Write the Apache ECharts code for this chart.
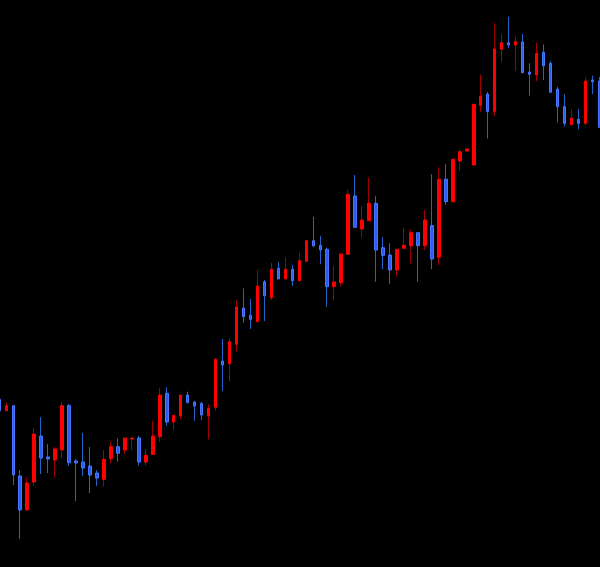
<!DOCTYPE html>
<html>
<head>
<meta charset="utf-8">
<script src="https://cdn.jsdelivr.net/npm/echarts@6/dist/echarts.min.js"></script>
<style>
html,body{margin:0;padding:0;background:#000;}
#chart{width:600px;height:567px;}
</style>
</head>
<body>
<div id="chart"></div>
<script>
// Session index (one entry per candle)
const sessions = Array.from({length: 87}, (_, i) => 'D' + (i + 1));

const opens = [
  167.7,156.3,161.3,91,57,85,131,110,107,117,
  161.3,106,105,101,94,87.7,108.3,120.3,117,128,
  129,105,112.7,130.3,173.7,145,151,172,165,163.5,
  151,159.7,206,203.3,222.7,259,251.7,245.3,285.3,269.3,
  298.7,288,297.7,286.3,305.7,326.3,321.7,317.7,280.3,284.3,
  312.7,371,338,346.3,363.7,319.3,312,297,318.7,321.3,
  334.3,321.3,341.3,309.7,387.7,365.3,406,416,402,461.5,
  473,455.5,517.7,524.3,522,525,495,492,514.7,503.7,
  478,460.3,442.3,447.7,443.7,487,486
];
const closes = [
  156.3,161.3,92,57,84,133,109,108,118,161.3,
  104.3,104,99,92,89,107.7,120.3,113.7,129,129,
  105,111.7,131,172,145,151.7,172,164.3,161,152,
  158.7,207.7,202,225.3,260,250.3,247.7,281,271.3,297.7,
  288,297.7,286.3,306.3,326.3,321,317,280.3,285,313,
  372.7,339.7,347,363.7,317,311.7,297,317.7,321.7,334.3,
  321.3,347,308,387.7,365.3,407.7,415.3,418,462.7,471,
  455.5,518,524.3,522,525.3,494.3,492.7,513.7,501.3,474.7,
  460.3,443.7,449,443.7,486,485.3,439.7
];
const lows = [
  156,156.3,82,28,57,81,93,94,90,109,
  101,66,91,74,81,80.3,103.7,105.3,112.7,117,
  101.3,101.3,112.7,125.3,141.3,137,147.7,164.3,146.3,147,
  127.7,156.3,176,186,215.3,244.3,238,245.3,246,267,
  288,288,281,286.3,305.7,321,302.7,260.3,267,280.3,
  312.7,339.7,329.3,346.3,285.3,297.7,283,290.5,318.7,303.7,
  285.3,317,297.7,302,362,365.3,396,416,402,455.3,
  428.5,451,505.3,518.7,496.3,494.3,471.3,486,487,474.7,
  444.7,440.3,442.3,437.7,442,473,439.7
];
const highs = [
  168,164.7,161.3,97,89,139,150,123,120,165,
  163,108,134,120,97,117,126,128.7,129,129,
  131,117.7,146,179.3,179.7,151.7,172,175.3,166,165.3,
  162.7,209.3,228,228.7,267,278.7,268,297,287,304.3,
  305,309.7,302,314.3,326.3,350.3,331,319.3,301,313,
  377,392,361,389.3,371,329.7,323.7,317.7,339.3,337.7,
  334.3,357,392.7,399.7,403,407.7,417.7,418,462.7,492,
  475,543.7,533,550.3,530.3,533,503.7,524.3,522.7,506,
  480.3,472.7,457.7,457.7,489.3,491.3,490
];

const wickData = sessions.map((_, i) => [opens[i], closes[i], lows[i], highs[i]]);
const bodyData = sessions.map((_, i) => {
  const lo = Math.min(opens[i], closes[i]);
  const hi = Math.max(opens[i], closes[i]);
  return [opens[i], closes[i], lo, hi];
});

const chart = echarts.init(document.getElementById('chart'), null, {renderer: 'canvas'});
chart.setOption({
  backgroundColor: '#000000',
  animation: false,
  grid: {left: -4.17, top: 0, width: 607, height: 567, outerBoundsMode: 'none', containLabel: false},
  xAxis: {type: 'category', data: sessions, show: false, boundaryGap: true},
  yAxis: {type: 'value', min: 0, max: 567, show: false, splitLine: {show: false}},
  series: [
    {
      name: 'wick',
      type: 'candlestick',
      data: wickData,
      barWidth: 1,
      itemStyle: {
        color: '#a00000', color0: '#1f66c8',
        borderColor: '#a00000', borderColor0: '#1f66c8',
        borderWidth: 1
      }
    },
    {
      name: 'body',
      type: 'candlestick',
      data: bodyData,
      barWidth: 3,
      itemStyle: {
        color: '#ff0000', color0: '#2f5cf0',
        borderColor: '#ff0000', borderColor0: '#4676ff',
        borderWidth: 1
      }
    }
  ]
});
</script>
</body>
</html>
